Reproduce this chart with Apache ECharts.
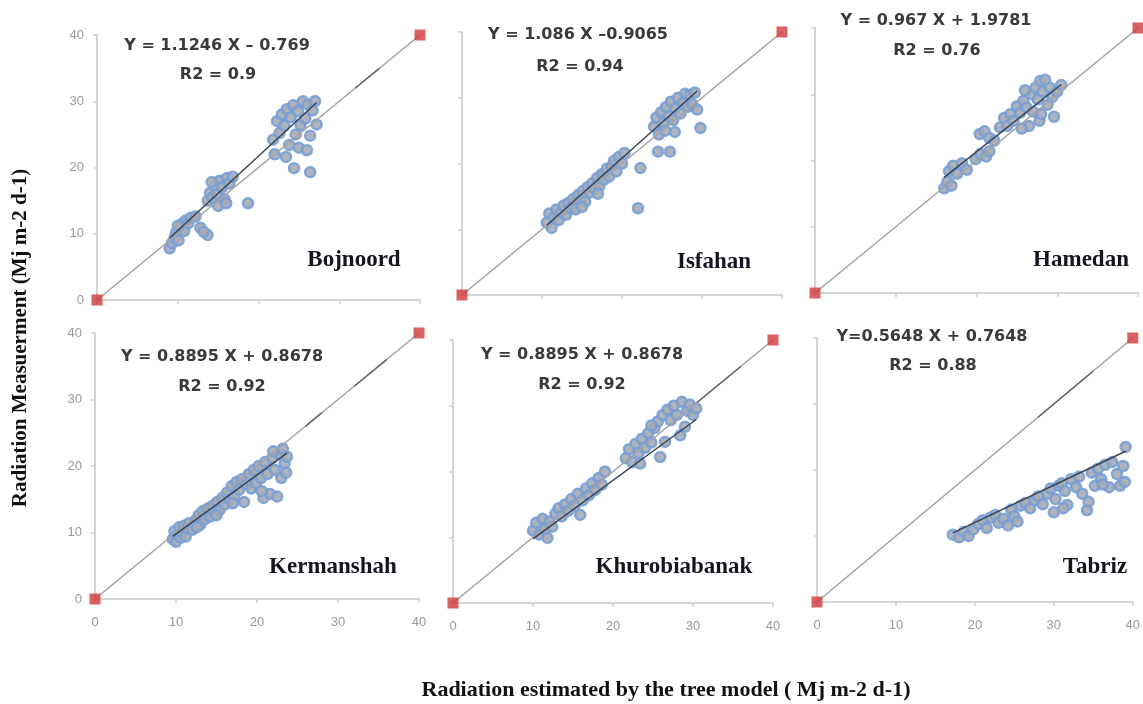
<!DOCTYPE html>
<html>
<head>
<meta charset="utf-8">
<script src="https://cdn.jsdelivr.net/npm/echarts@6/dist/echarts.min.js"></script>
<style>
html,body{margin:0;padding:0;background:#fff;}
#chart{width:1143px;height:704px;}
</style>
</head>
<body>
<div id="chart"></div>
<script>
const stations = ['Bojnoord','Isfahan','Hamedan','Kermanshah','Khurobiabanak','Tabriz'];
const eqTexts = ['Y = 1.1246 X \u2013 0.769','Y = 1.086 X \u20130.9065','Y = 0.967 X + 1.9781','Y = 0.8895 X + 0.8678','Y = 0.8895 X + 0.8678','Y=0.5648 X + 0.7648'];
const r2Texts = ['R2 = 0.9','R2 = 0.94','R2 = 0.76','R2 = 0.92','R2 = 0.92','R2 = 0.88'];
const slopes = [1.1246, 1.086, 0.967, 0.8895, 0.8895, 0.5648];
const intercepts = [-0.769, -0.9065, 1.9781, 0.8678, 0.8678, 0.7648];
const fitRanges = [[9.0,27.2],[10.6,29.4],[16.0,30.5],[9.6,23.7],[10.0,30.4],[17.2,39.1]];
const tickValues = [0,10,20,30,40];
const axisMin = 0, axisMax = 40, tickStep = 10;
const cornerPoints = [[0,0],[40,40]];
const oneToOne = [[0,0],[40,40]];
// darker, rougher stretches of the 1:1 line (start, end along the diagonal)
const darkStretches = [[[32,35]],[],[],[[26,28],[32,36]],[[30.5,36]],[[28,35]]];
const xTitle = 'Radiation estimated by the tree model ( Mj m-2 d-1)';
const yTitle = 'Radiation Measuerment (Mj m-2 d-1)';

const bojnoord = [[9.0,7.8],[9.3,8.6],[9.6,9.4],[9.8,10.2],[10.1,9.0],[10.3,10.8],[10.5,11.5],[10.8,10.4],[11.0,12.0],[11.3,11.6],[11.6,12.4],[10.0,11.2],[12.2,12.6],[12.8,10.9],[13.7,9.8],[13.2,10.3],
[13.7,15.0],[14.0,16.2],[14.3,15.5],[14.6,17.2],[14.9,16.0],[15.2,18.0],[15.5,17.0],[15.8,15.2],[16.1,18.4],[16.4,17.6],[16.8,18.6],[15.0,14.2],[16.0,14.6],[18.7,14.6],[14.2,17.8],
[21.8,24.2],[22.0,22.0],[22.3,27.0],[22.6,25.2],[22.9,28.0],[23.2,26.3],[23.5,28.8],[23.8,23.4],[24.0,27.6],[24.3,29.4],[24.6,25.0],[24.9,28.5],[25.2,26.4],[25.5,30.0],[25.8,27.4],[26.1,29.5],[26.4,24.8],[26.7,28.6],[27.0,30.0],[27.2,26.5],[24.4,19.9],[26.4,19.3],[23.4,21.6],[25.0,23.0],[26.0,22.6]];
const isfahan = [[10.6,11.0],[10.9,12.4],[11.2,10.2],[11.5,11.8],[11.8,13.0],[12.1,11.4],[12.4,12.6],[12.7,13.6],[13.0,12.2],[13.3,14.0],[13.6,13.2],[13.9,14.6],[14.2,13.0],[14.5,15.2],[14.8,14.4],[15.1,15.8],[15.4,14.2],[15.7,16.4],[16.0,15.6],[16.3,17.0],[16.6,16.2],[16.9,17.8],[17.2,16.6],[17.5,18.4],[17.8,17.6],[18.1,19.2],[18.4,18.0],[18.7,19.6],[19.0,20.4],[19.3,18.8],[19.6,21.0],[20.0,20.0],[20.3,21.6],[15.0,13.4],[17.0,15.4],[22.3,19.3],[22.0,13.2],
[24.0,25.6],[24.3,27.0],[24.6,24.4],[24.9,27.8],[25.2,26.2],[25.5,28.6],[25.8,27.2],[26.1,29.4],[26.4,26.6],[26.7,28.4],[27.0,30.0],[27.3,27.6],[27.6,29.2],[27.9,30.6],[28.2,28.6],[28.5,30.4],[28.8,29.0],[29.1,30.8],[29.4,28.2],[29.8,25.4],[24.5,21.8],[26.0,21.8],[26.6,24.8],[25.4,25.0]];
const hamedan = [[16.0,15.8],[16.4,16.8],[16.9,16.2],[16.6,18.4],[17.1,19.2],[17.6,18.0],[18.2,19.6],[18.8,18.6],[19.9,20.2],[20.5,21.0],[21.2,20.6],[21.6,21.4],[20.4,24.0],[21.0,24.4],[21.6,23.4],[22.2,23.0],[22.9,25.0],[23.4,26.4],[23.8,25.2],[24.2,27.0],[24.6,26.0],[25.0,28.2],[25.4,27.2],[25.8,29.0],[26.2,28.0],[26.5,25.2],[26.8,30.0],[27.0,27.4],[27.3,31.0],[27.6,29.2],[27.9,32.0],[28.2,30.4],[28.5,32.2],[28.8,28.4],[29.1,31.0],[29.4,29.6],[29.6,26.6],[30.0,30.4],[30.5,31.4],[27.8,26.0],[26.0,30.6],[25.6,24.8],[28.0,27.0]];
const kermanshah = [[9.6,9.0],[9.8,10.2],[10.0,8.6],[10.2,9.6],[10.4,10.8],[10.6,9.2],[10.8,10.0],[11.0,11.0],[11.2,9.4],[11.4,10.6],[11.6,11.4],[12.0,10.4],[12.4,11.8],[12.8,12.6],[13.0,11.2],[13.3,13.2],[13.6,12.0],[13.9,13.6],[14.2,12.4],[14.5,14.0],[14.8,13.0],[15.1,14.6],[15.4,13.4],[15.7,15.2],[16.0,14.2],[16.3,16.0],[16.6,15.0],[16.9,17.0],[17.2,15.6],[17.5,17.6],[17.8,16.4],[18.1,18.0],[18.4,14.6],[18.7,17.2],[19.0,18.8],[19.3,16.6],[19.6,19.4],[19.9,17.4],[20.2,20.0],[20.5,18.2],[20.8,15.2],[21.0,20.6],[21.3,18.8],[21.6,15.8],[21.9,21.2],[22.2,19.4],[22.5,15.4],[22.8,21.8],[23.0,18.2],[23.2,22.6],[23.4,20.4],[23.6,19.0],[23.7,21.4],[22.0,22.2],[20.6,16.2],[17.0,14.4],[15.0,12.6],[12.6,10.8]];
const khurobiabanak = [[10.0,11.0],[10.4,12.2],[10.8,10.4],[11.2,12.8],[11.5,11.2],[11.8,9.9],[12.1,12.4],[12.4,11.6],[12.8,13.6],[13.2,14.4],[13.6,13.2],[14.0,15.0],[14.4,14.0],[14.8,15.8],[15.2,14.8],[15.6,16.6],[15.9,13.4],[16.2,15.6],[16.6,17.4],[17.0,16.4],[17.4,18.2],[17.8,17.2],[18.2,19.0],[18.6,18.0],[19.0,20.0],[21.6,22.0],[22.0,23.4],[22.4,21.4],[22.8,24.2],[23.2,22.8],[23.4,21.2],[23.6,25.0],[24.0,23.6],[24.4,25.8],[24.8,24.4],[25.2,26.6],[25.6,27.6],[25.9,22.2],[26.2,28.6],[26.5,24.5],[26.8,29.4],[27.2,27.8],[27.6,30.0],[28.0,28.6],[28.4,25.5],[28.6,30.6],[29.0,26.8],[29.3,29.2],[29.6,30.2],[30.0,28.6],[30.4,29.6],[24.8,27.0]];
const tabriz = [[17.2,10.2],[18.0,9.8],[18.6,10.6],[19.2,10.0],[19.8,11.0],[20.4,11.8],[21.0,12.4],[21.5,11.2],[22.0,12.8],[22.6,13.2],[23.0,12.0],[23.6,12.6],[24.2,11.6],[24.6,14.0],[25.0,13.0],[25.4,12.2],[25.8,14.6],[26.4,15.0],[27.0,14.2],[27.6,15.4],[28.0,16.0],[28.6,14.8],[29.2,16.4],[29.6,17.2],[30.2,15.6],[30.6,17.6],[31.0,18.0],[31.4,16.8],[31.7,14.7],[32.2,18.6],[32.8,17.4],[33.2,19.0],[33.6,16.4],[34.2,13.9],[34.4,15.2],[34.8,19.6],[35.2,17.6],[35.6,20.2],[36.0,18.6],[36.5,20.8],[37.0,17.4],[37.4,21.2],[38.0,19.4],[38.4,17.6],[38.8,20.6],[39.1,23.5],[39.0,18.2],[36.2,17.8],[31.2,14.2],[30.0,13.6]];
const stationPoints = [bojnoord, isfahan, hamedan, kermanshah, khurobiabanak, tabriz];

// layout (pixels)
const grids = [
  {left:97, top:35, width:323, height:265},
  {left:462, top:32, width:320, height:263},
  {left:815, top:28, width:323, height:265},
  {left:95, top:333, width:324, height:266},
  {left:453, top:340, width:320, height:263},
  {left:817, top:338, width:323, height:264}
];
const eqPos = [[217,46,218,75],[578,35,580,67],[936,21,937,51],[222,357,222,387],[582,355,582,385],[932,337,933,366]];
const namePos = [[354,260],[714,262],[1081,260],[333,567],[674,567],[1095,567]];

const chart = echarts.init(document.getElementById('chart'), null, {renderer:'canvas'});
const xAxes = [], yAxes = [], series = [], graphics = [];
const axisLineStyle = {color:'#d4d4d4', width:2};
grids.forEach((g, i) => {
  const bottomRow = i >= 3, leftCol = (i % 3) === 0;
  xAxes.push({gridIndex:i, type:'value', min:axisMin, max:axisMax, interval:tickStep,
    axisLine:{show:true, onZero:false, lineStyle:axisLineStyle},
    axisTick:{show:true, length:4, lineStyle:{color:'#cfcfcf', width:1.5}},
    splitLine:{show:false},
    axisLabel:{show:bottomRow, color:'#999', fontSize:13, margin:17, fontFamily:'Liberation Sans',
      formatter: v => tickValues.indexOf(v) >= 0 ? String(v) : ''}});
  yAxes.push({gridIndex:i, type:'value', min:axisMin, max:axisMax, interval:tickStep,
    axisLine:{show:true, onZero:false, lineStyle:axisLineStyle},
    axisTick:{show:true, length:4, lineStyle:{color:'#cfcfcf', width:1.5}},
    splitLine:{show:false},
    axisLabel:{show:leftCol, color:'#999', fontSize:13, margin:13, fontFamily:'Liberation Sans',
      formatter: v => tickValues.indexOf(v) >= 0 ? String(v) : ''}});
  series.push({type:'scatter', xAxisIndex:i, yAxisIndex:i, data:stationPoints[i], symbol:'circle', symbolSize:10, clip:false,
    itemStyle:{color:'#a6abb4', borderColor:'#779fd6', borderWidth:2.5, opacity:0.9}, z:2});
  series.push({type:'line', xAxisIndex:i, yAxisIndex:i, data:oneToOne, showSymbol:false, clip:false,
    lineStyle:{color:'#a3a3a3', width:1.6}, z:3});
  darkStretches[i].forEach(s => {
    series.push({type:'line', xAxisIndex:i, yAxisIndex:i, data:[[s[0],s[0]],[s[1],s[1]]], showSymbol:false,
      lineStyle:{color:'#555', width:1.4, opacity:0.85}, z:3});
  });
  const r = fitRanges[i];
  series.push({type:'line', xAxisIndex:i, yAxisIndex:i, showSymbol:false,
    data:[[r[0], slopes[i]*r[0]+intercepts[i]],[r[1], slopes[i]*r[1]+intercepts[i]]],
    lineStyle:{color:'#3c4450', width:1.5}, z:4});
  series.push({type:'scatter', xAxisIndex:i, yAxisIndex:i, data:cornerPoints, symbol:'rect', symbolSize:11, clip:false,
    itemStyle:{color:'#cf3a3a'}, z:5});
  const p = eqPos[i];
  graphics.push({type:'text', x:p[0], y:p[1], style:{text:eqTexts[i], fill:'#3a3a3a', font:'bold 16px "DejaVu Sans"', textAlign:'center', textVerticalAlign:'middle'}, z:10});
  graphics.push({type:'text', x:p[2], y:p[3], style:{text:r2Texts[i], fill:'#3a3a3a', font:'bold 16px "DejaVu Sans"', textAlign:'center', textVerticalAlign:'middle'}, z:10});
  const n = namePos[i];
  graphics.push({type:'text', x:n[0], y:n[1], style:{text:stations[i], fill:'#15151f', font:'bold 23px "Liberation Serif"', textAlign:'center', textVerticalAlign:'middle'}, z:10});
});
graphics.push({type:'text', x:666, y:690, style:{text:xTitle, fill:'#111', font:'bold 22px "Liberation Serif"', textAlign:'center', textVerticalAlign:'middle'}});
graphics.push({type:'text', x:21, y:338, rotation:Math.PI/2, style:{text:yTitle, fill:'#111', font:'bold 21px "Liberation Serif"', textAlign:'center', textVerticalAlign:'middle'}});

chart.setOption({
  animation:false,
  backgroundColor:'#ffffff',
  grid: grids,
  xAxis: xAxes,
  yAxis: yAxes,
  series: series,
  graphic: graphics
});
</script>
</body>
</html>
